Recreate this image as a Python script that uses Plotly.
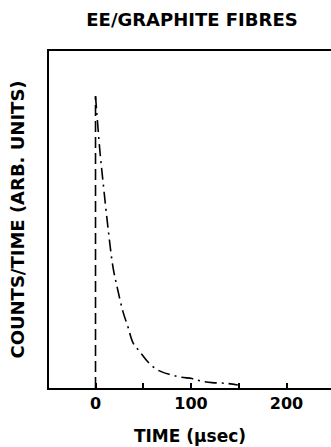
import plotly.graph_objects as go

# Data
time_us = [0, 1.3, 4.7, 7.9, 13.1, 18.3, 23, 28.8, 34, 39.3, 46.6, 55, 65.4, 78, 90, 101, 110, 122, 135.6, 149]
counts = [86.6, 81.9, 70.0, 61.1, 47.5, 35.9, 29.5, 22.6, 18.1, 13.4, 10.7, 7.7, 5.3, 4.0, 3.2, 2.8, 2.1, 1.6, 1.4, 0.9]
pulse_time = [0, 0]
pulse_counts = [0, 86.6]
tick_vals = [0, 50, 100, 150, 200]
tick_text = ["<b>0</b>", "", "<b>100</b>", "", "<b>200</b>"]

fig = go.Figure()
fig.add_trace(go.Scatter(x=pulse_time, y=pulse_counts, mode="lines",
                         line=dict(color="black", width=1.6, dash="11px,5px"),
                         showlegend=False))
fig.add_trace(go.Scatter(x=time_us, y=counts, mode="lines",
                         line=dict(color="black", width=1.6, dash="12px,5px,2px,5px", shape="spline"),
                         showlegend=False))

font_family = "DejaVu Sans, sans-serif"
fig.update_layout(
    width=331, height=447,
    margin=dict(l=49, r=0, t=51, b=59),
    paper_bgcolor="white", plot_bgcolor="white",
    title=dict(text="<b>EE/GRAPHITE FIBRES</b>", x=0.58, xanchor="center",
               y=1 - 20 / 447, yanchor="middle",
               font=dict(family=font_family, size=18, color="black")),
    xaxis=dict(range=[-48.7, 246.6], showgrid=False, zeroline=False,
               showline=True, linecolor="black", linewidth=2, mirror=True,
               ticks="inside", ticklen=5, tickwidth=1.5, tickcolor="black",
               tickvals=tick_vals, ticktext=tick_text,
               tickfont=dict(family=font_family, size=16, color="black"),
               title=dict(text="<b>TIME (μsec)</b>", standoff=18,
                          font=dict(family=font_family, size=17, color="black"))),
    yaxis=dict(range=[0, 100], showgrid=False, zeroline=False,
               showline=True, linecolor="black", linewidth=2,
               showticklabels=False, ticks="",
               title=dict(text="<b>COUNTS/TIME (ARB. UNITS)</b>", standoff=18,
                          font=dict(family=font_family, size=18, color="black"))),
)

fig.write_html("out.html")
